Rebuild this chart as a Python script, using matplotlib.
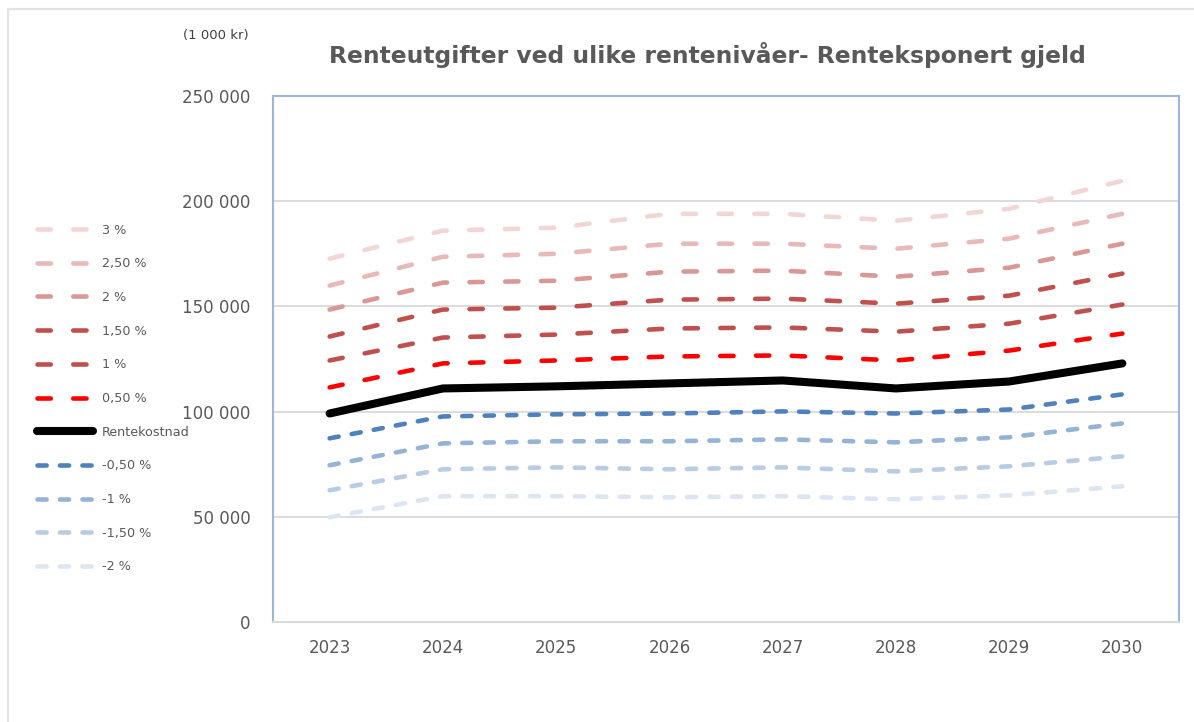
import matplotlib
matplotlib.use("Agg")
import matplotlib.pyplot as plt
from matplotlib.patches import Rectangle
from matplotlib.ticker import FuncFormatter

# Data (1 000 kr)
years = [2023, 2024, 2025, 2026, 2027, 2028, 2029, 2030]

p3_00 = [172.7, 186.0, 187.4, 194.0, 194.0, 190.7, 196.4, 209.7]
p2_50 = [159.9, 173.6, 175.0, 179.8, 179.8, 177.4, 182.2, 194.0]
p2_00 = [148.5, 161.3, 162.2, 166.5, 167.0, 164.1, 168.4, 179.8]
p1_50 = [135.7, 148.5, 149.4, 153.2, 153.7, 151.3, 155.1, 165.6]
p1_00 = [124.3, 135.2, 136.6, 139.5, 140.0, 138.0, 141.8, 150.9]
p0_50 = [111.5, 122.9, 124.3, 126.2, 126.7, 124.3, 129.0, 137.1]
rentekostnad = [99.1, 111.0, 112.0, 113.4, 114.8, 111.0, 114.3, 122.9]
m0_50 = [87.3, 97.7, 98.7, 99.1, 100.1, 99.1, 101.0, 108.2]
m1_00 = [74.5, 84.9, 85.9, 85.9, 86.8, 85.4, 87.8, 94.4]
m1_50 = [62.6, 72.6, 73.5, 72.6, 73.5, 71.6, 74.0, 78.7]
m2_00 = [49.8, 59.8, 59.8, 59.3, 59.8, 58.3, 60.2, 64.5]

labels = ["3 %", "2,50 %", "2 %", "1,50 %", "1 %", "0,50 %",
          "Rentekostnad", "-0,50 %", "-1 %", "-1,50 %", "-2 %"]
series = [p3_00, p2_50, p2_00, p1_50, p1_00, p0_50,
          rentekostnad, m0_50, m1_00, m1_50, m2_00]
farger = ["#f2d6d6", "#e8b9b9", "#d99796", "#c0504d", "#c0504d", "#ff0000",
          "#000000", "#4f81bd", "#95b3d7", "#b8cce4", "#dce6f2"]

tekst = "#595959"

fig = plt.figure(figsize=(11.94, 7.22), dpi=100)
ax = fig.add_axes([273 / 1194, 1 - 622 / 722, 906 / 1194, 526 / 722])

for navn, verdier, farge in zip(labels, series, farger):
    y = [v * 1000 for v in verdier]
    if navn == "Rentekostnad":
        ax.plot(years, y, color=farge, lw=5.8, solid_capstyle="round",
                solid_joinstyle="round", label=navn, zorder=5)
    elif navn.startswith("-"):
        ax.plot(years, y, color=farge, lw=3.3, dashes=(2.0, 2.9),
                dash_capstyle="round", label=navn, zorder=4)
    else:
        ax.plot(years, y, color=farge, lw=3.3, dashes=(2.9, 4.9),
                dash_capstyle="round", label=navn, zorder=4)

ax.set_xlim(2022.5, 2030.5)
ax.set_ylim(0, 250000)
ax.set_xticks(years)
ax.set_yticks(range(0, 250001, 50000))
ax.yaxis.set_major_formatter(FuncFormatter(lambda v, p: f"{int(v):,}".replace(",", " ")))
ax.tick_params(axis="both", length=0, labelsize=12, colors=tekst)
ax.tick_params(axis="y", pad=16)
ax.tick_params(axis="x", pad=12)
ax.grid(axis="y", color="#d9d9d9", lw=1.3)
ax.set_axisbelow(True)
for side in ["left", "top", "right"]:
    ax.spines[side].set_color("#9db7d8")
    ax.spines[side].set_linewidth(1.5)
ax.spines["bottom"].set_color("#d9d9d9")
ax.spines["bottom"].set_linewidth(1.5)

fig.text(707 / 1194, 1 - 55 / 722, "Renteutgifter ved ulike rentenivåer- Renteksponert gjeld",
         ha="center", va="center", fontsize=16.8, fontweight="bold", color=tekst)
fig.text(183 / 1194, 1 - 35 / 722, "(1 000 kr)", ha="left", va="center",
         fontsize=9.5, color="#404040")

leg = fig.legend(loc="upper left", bbox_to_anchor=(25 / 1194, 1 - 212 / 722),
                 frameon=False, fontsize=9.2, handlelength=4.4,
                 handletextpad=0.7, labelspacing=1.62, labelcolor=tekst)

# ytre ramme
fig.patches.append(Rectangle((8 / 1194, -0.1), 1.2, 1 - 9 / 722 + 0.1,
                             transform=fig.transFigure, fill=False,
                             edgecolor="#e3e3e3", lw=1.6))

fig.savefig("out.png", dpi=100)
